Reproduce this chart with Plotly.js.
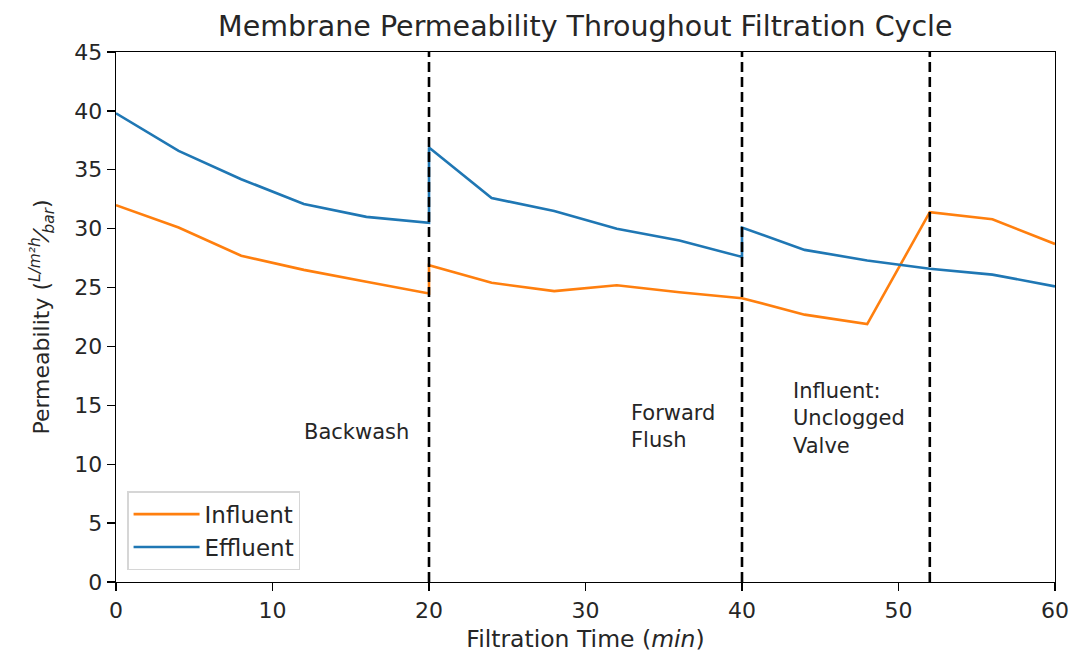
<!DOCTYPE html>
<html>
<head>
<meta charset="utf-8">
<script src="https://cdn.plot.ly/plotly-3.0.1.min.js"></script>
<style>html,body{margin:0;padding:0;background:#fff;}#chart{width:1077px;height:661px;}</style>
</head>
<body>
<div id="chart"></div>
<script>
const time = [0,4,8,12,16,20,20,24,28,32,36,40,40,44,48,52,56,60];
const influent = [32.0,30.1,27.7,26.5,25.5,24.5,26.9,25.4,24.7,25.2,24.6,24.1,24.1,22.7,21.9,31.4,30.8,28.7];
const effluent = [39.8,36.6,34.2,32.1,31.0,30.5,36.9,32.6,31.5,30.0,29.0,27.6,30.1,28.2,27.3,26.6,26.1,25.1];
const eventTimes = [20,40,52];
const eventLabels = ["Backwash","Forward<br>Flush","Influent:<br>Unclogged<br>Valve"];
const labelX = [11.9,32.8,43.1];
const labelY = [12.7,13.2,13.9];

const font = "DejaVu Sans, sans-serif";
const ink = "#262626";
const traces = [
  {x: time, y: influent, name: "Influent", mode: "lines", line: {color: "#ff7f0e", width: 2.6}},
  {x: time, y: effluent, name: "Effluent", mode: "lines", line: {color: "#1f77b4", width: 2.6}}
];
const shapes = eventTimes.map(t => ({
  type: "line", xref: "x", yref: "paper", x0: t, x1: t, y0: 0, y1: 1,
  line: {color: "#000", width: 2.6, dash: "10px,5px"}
}));
const annotations = eventLabels.map((txt, i) => ({
  x: labelX[i], y: labelY[i], xref: "x", yref: "y", text: txt, showarrow: false,
  xanchor: "left", yanchor: "middle", align: "left",
  font: {family: font, size: 21, color: ink}
}));
const layout = {
  width: 1077, height: 661,
  margin: {l: 116, r: 22, t: 52, b: 79},
  paper_bgcolor: "#fff", plot_bgcolor: "#fff",
  font: {family: font, size: 21, color: ink},
  title: {text: "Membrane Permeability Throughout Filtration Cycle", x: 0.5435, xanchor: "center", y: 0.961, yanchor: "middle", font: {family: font, size: 28.5, color: ink}},
  xaxis: {
    range: [0, 60], tickvals: [0,10,20,30,40,50,60], showgrid: false, zeroline: false,
    showline: true, mirror: true, linecolor: "#000", linewidth: 1.3,
    ticks: "outside", ticklen: 8, tickwidth: 1.3, tickcolor: "#000", tickfont: {size: 22, family: font, color: ink},
    title: {text: "Filtration Time (<i>min</i>)", font: {size: 23.5, family: font, color: ink}, standoff: 8}
  },
  yaxis: {
    range: [0, 45], tickvals: [0,5,10,15,20,25,30,35,40,45], showgrid: false, zeroline: false,
    showline: true, mirror: true, linecolor: "#000", linewidth: 1.3,
    ticks: "outside", ticklen: 8, tickwidth: 1.3, tickcolor: "#000", tickfont: {size: 22, family: font, color: ink},
    title: {text: "Permeability (<i><sup>L/m²h</sup>⁄<sub>bar</sub></i>)", font: {size: 22, family: font, color: ink}, standoff: 18}
  },
  legend: {
    x: 0.012, y: 0.022, xanchor: "left", yanchor: "bottom",
    bordercolor: "#d6d6d6", borderwidth: 1.3, bgcolor: "rgba(255,255,255,0.8)",
    font: {size: 23, family: font, color: ink}, tracegroupgap: 4, itemwidth: 66
  },
  shapes: shapes,
  annotations: annotations,
  showlegend: true
};
Plotly.newPlot("chart", traces, layout, {displayModeBar: false, staticPlot: true});
</script>
</body>
</html>
